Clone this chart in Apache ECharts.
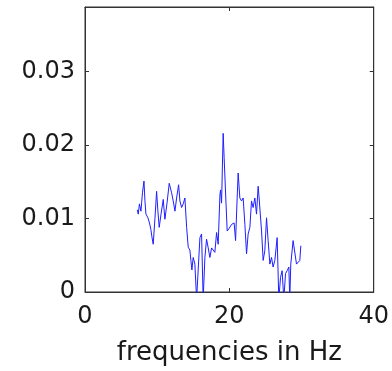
<!DOCTYPE html>
<html>
<head>
<meta charset="utf-8">
<script src="https://cdn.jsdelivr.net/npm/echarts@6/dist/echarts.min.js"></script>
<style>html,body{margin:0;padding:0;background:#fff;}#c{width:392px;height:371px;}</style>
</head>
<body>
<div id="c"></div>
<script>
var freqs = [7.24,7.38,7.54,7.75,7.96,8.17,8.30,8.44,8.72,8.93,9.13,9.27,9.45,9.69,9.92,10.10,10.28,10.52,10.84,11.07,11.35,11.67,12.00,12.22,12.46,12.69,12.97,13.15,13.38,13.61,13.84,14.08,14.30,14.53,14.67,14.81,14.99,15.22,15.46,15.68,15.92,16.15,16.37,16.61,16.84,17.07,17.30,17.54,17.76,17.99,18.23,18.45,18.69,18.78,18.92,19.14,19.28,19.52,19.70,19.93,20.07,20.30,20.53,20.66,20.86,21.08,21.22,21.45,21.69,21.91,22.15,22.38,22.60,22.84,23.07,23.29,23.53,23.76,23.99,24.12,24.46,24.68,24.91,25.15,25.37,25.61,25.84,26.06,26.30,26.62,26.85,27.09,27.31,27.54,27.78,28.00,28.24,28.37,28.51,28.83,29.07,29.30,29.52,29.76,29.90];
var power = [0.0112,0.0106,0.0120,0.0110,0.0135,0.0151,0.0125,0.0106,0.0101,0.0094,0.0085,0.0075,0.0065,0.0100,0.0137,0.0110,0.0088,0.0105,0.0126,0.0099,0.0120,0.0148,0.0135,0.0124,0.0110,0.0128,0.0146,0.0124,0.0115,0.0120,0.0128,0.0088,0.0061,0.0057,0.0043,0.0030,0.0047,0.0038,-0.001,-0.001,0.0074,0.0079,-0.001,0.0047,0.0072,0.0060,0.0047,0.0060,0.0060,0.0054,0.0081,0.0065,0.0132,0.0139,0.0121,0.0216,0.0182,0.0124,0.0083,0.0086,0.0088,0.0092,0.0090,0.0094,0.0070,0.0128,0.0162,0.0128,0.0124,0.0128,0.0092,0.0052,0.0079,0.0088,0.0124,0.0115,0.0128,0.0106,0.0144,0.0128,0.0083,0.0043,0.0056,0.0101,0.0070,0.0038,0.0047,0.0034,0.0043,0.0074,-0.001,0.0020,0.0029,-0.001,0.0025,0.0029,0.0034,-0.001,0.0038,0.0070,0.0072,0.0038,0.0040,0.0043,0.0063];
var xTicks = [0, 20, 40];
var yTicks = [0, 0.01, 0.02, 0.03];
var xLabel = 'frequencies in Hz';

var data = freqs.map(function(f, i){ return [f, power[i]]; });
var font = 'DejaVu Sans';
var axColor = '#333';
function yFmt(v){
  for (var i=0;i<yTicks.length;i++){ if (Math.abs(v-yTicks[i])<1e-9) return String(yTicks[i]); }
  return '';
}
function xFmt(v){ return xTicks.indexOf(v) >= 0 ? String(v) : ''; }
var lineCfg = {show: true, onZero: false, lineStyle: {color: axColor, width: 1}};
var tickCfg = {show: true, inside: true, length: 4, lineStyle: {color: axColor}};
var chart = echarts.init(document.getElementById('c'), null, {renderer:'canvas'});
chart.setOption({
  animation: false,
  backgroundColor: '#fff',
  grid: {left: 85, right: 18, top: 7, bottom: 76, show: true, borderColor: axColor, borderWidth: 1},
  xAxis: [{
    type: 'value', position: 'bottom', min: 0, max: 40, interval: 20,
    name: xLabel, nameLocation: 'middle', nameGap: 48,
    nameTextStyle: {fontFamily: font, fontSize: 26, color: '#1a1a1a'},
    axisLine: lineCfg, axisTick: tickCfg,
    axisLabel: {fontFamily: font, fontSize: 24, color: '#1a1a1a', margin: 13, formatter: xFmt},
    splitLine: {show: false}
  },{
    type: 'value', position: 'top', min: 0, max: 40, interval: 20,
    axisLine: lineCfg, axisTick: tickCfg,
    axisLabel: {show: false}, splitLine: {show: false}
  }],
  yAxis: [{
    type: 'value', position: 'left', min: 0, max: 0.0388, interval: 0.01,
    axisLine: lineCfg, axisTick: tickCfg,
    axisLabel: {fontFamily: font, fontSize: 24, color: '#1a1a1a', margin: 10, formatter: yFmt, showMaxLabel: false},
    splitLine: {show: false}
  },{
    type: 'value', position: 'right', min: 0, max: 0.0388, interval: 0.01,
    axisLine: lineCfg, axisTick: tickCfg,
    axisLabel: {show: false}, splitLine: {show: false}
  }],
  series: [{
    type: 'line', data: data, xAxisIndex: 0, yAxisIndex: 0,
    showSymbol: false, clip: true,
    lineStyle: {color: '#1f1fff', width: 1},
    itemStyle: {color: '#1f1fff'}
  }]
});
</script>
</body>
</html>
